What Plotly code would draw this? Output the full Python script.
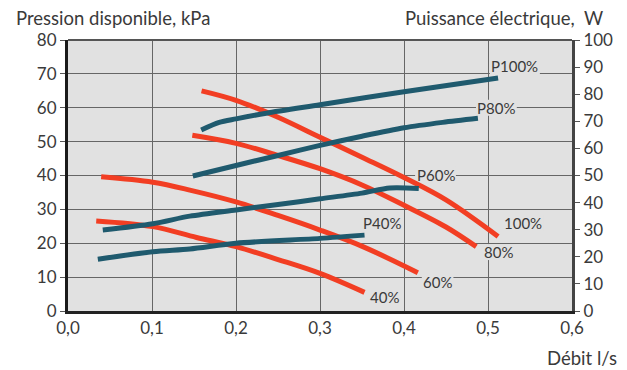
import plotly.graph_objects as go

# Pressure curves (kPa, left axis)
x100 = [0.159, 0.2, 0.25, 0.3, 0.35, 0.4, 0.45, 0.512]
p100 = [65.0, 62.2, 57.2, 51.3, 45.4, 39.4, 32.8, 22.0]
x80 = [0.148, 0.2, 0.25, 0.3, 0.35, 0.4, 0.45, 0.486]
p80 = [51.9, 49.5, 45.9, 42.0, 37.2, 31.2, 24.8, 19.0]
x60 = [0.0395, 0.101, 0.145, 0.2, 0.25, 0.3, 0.351, 0.4165]
p60 = [39.6, 38.0, 35.7, 32.2, 28.2, 23.9, 19.0, 11.3]
x40 = [0.0336, 0.101, 0.153, 0.2, 0.25, 0.3, 0.353]
p40 = [26.6, 24.9, 21.7, 19.0, 15.2, 11.1, 5.5]

# Power curves (W, right axis)
xw100 = [0.1586, 0.18, 0.2, 0.236, 0.3, 0.4, 0.512]
w100 = [66.8, 69.6, 70.9, 73.0, 76.1, 80.9, 86.0]
xw80 = [0.1486, 0.2, 0.25, 0.3, 0.35, 0.4, 0.446, 0.488]
w80 = [49.8, 53.7, 57.4, 61.1, 64.5, 67.6, 69.6, 71.1]
xw60 = [0.0414, 0.101, 0.145, 0.2, 0.25, 0.3, 0.35, 0.383, 0.4176]
w60 = [29.9, 32.2, 35.0, 37.3, 39.3, 41.4, 43.5, 45.4, 45.2]
xw40 = [0.0355, 0.101, 0.145, 0.2, 0.3, 0.353]
w40 = [19.1, 21.9, 22.9, 25.0, 26.8, 28.0]

# Curve labels (text, x, kPa)
label_text = ["P100%", "P80%", "P60%", "P40%", "100%", "80%", "60%", "40%"]
label_x = [0.532, 0.51, 0.4375, 0.374, 0.542, 0.512, 0.44, 0.377]
label_y = [72.3, 60.0, 40.2, 26.1, 26.0, 17.4, 8.6, 4.1]

RED = "#f23e23"
BLUE = "#1f5a6e"
BG = "#e1e1e1"
TXT = "#3a3a3a"
FONT = "Lato"
FS = 17
TFS = 18.5

fig = go.Figure()
for xs, ys in [(x100, p100), (x80, p80), (x60, p60), (x40, p40)]:
    fig.add_trace(go.Scatter(x=xs, y=ys, mode="lines", line=dict(color=RED, width=5, shape="spline", smoothing=1.0),
                             hoverinfo="skip", showlegend=False))
for xs, ys in [(xw100, w100), (xw80, w80), (xw60, w60), (xw40, w40)]:
    fig.add_trace(go.Scatter(x=xs, y=ys, mode="lines", yaxis="y2",
                             line=dict(color=BLUE, width=5, shape="spline", smoothing=0.8),
                             hoverinfo="skip", showlegend=False))

# Label backgrounds that break the gridlines but stay below the curves
use_between = True
for t, x, y in zip(label_text, label_x, label_y):
    half_w = len(t) * 4.6 + 2
    try:
        fig.add_shape(type="rect", xref="x", yref="y", xsizemode="pixel", ysizemode="pixel",
                      xanchor=x, yanchor=y, x0=-half_w, x1=half_w, y0=-8, y1=8,
                      fillcolor=BG, line=dict(width=0), layer="between")
    except Exception:
        use_between = False
        break
if not use_between:
    fig.layout.shapes = ()

for t, x, y in zip(label_text, label_x, label_y):
    fig.add_annotation(x=x, y=y, xref="x", yref="y", text=t, showarrow=False,
                       font=dict(family=FONT, size=15, color=TXT),
                       bgcolor=("rgba(0,0,0,0)" if use_between else BG), borderpad=0)

fig.add_shape(type="line", xref="paper", yref="paper", x0=0, x1=1, y0=1, y1=1, line=dict(color="#555555", width=2))

fig.add_annotation(x=0, y=1, xref="paper", yref="paper", xshift=-54, yshift=22, xanchor="left", yanchor="middle",
                   text="Pression disponible, kPa", showarrow=False, font=dict(family=FONT, size=TFS, color=TXT))
fig.add_annotation(x=1, y=1, xref="paper", yref="paper", xshift=33, yshift=22, xanchor="right", yanchor="middle",
                   text="Puissance électrique,  W", showarrow=False, font=dict(family=FONT, size=TFS, color=TXT))
fig.add_annotation(x=1, y=0, xref="paper", yref="paper", xshift=47, yshift=-47, xanchor="right", yanchor="middle",
                   text="Débit l/s", showarrow=False, font=dict(family=FONT, size=TFS, color=TXT))

fig.update_layout(
    width=619, height=362,
    margin=dict(l=60, r=55, t=32, b=59, autoexpand=False),
    paper_bgcolor="white", plot_bgcolor=BG,
    separators=", ",
    font=dict(family=FONT, size=FS, color=TXT),
    xaxis=dict(range=[0, 0.6], dtick=0.1, tickformat=".1f", showgrid=True, gridcolor="#666666", gridwidth=1.2,
               showline=True, linecolor="#222222", linewidth=3, ticks="", zeroline=False, automargin=False,
               tickfont=dict(family=FONT, size=FS, color=TXT)),
    yaxis=dict(range=[0, 80], dtick=10, showgrid=True, gridcolor="#666666", gridwidth=1.2,
               showline=True, linecolor="#1a1a1a", linewidth=3, ticks="outside", ticklen=5, tickcolor="#555555",
               zeroline=False, automargin=False, tickfont=dict(family=FONT, size=FS, color=TXT)),
    yaxis2=dict(range=[0, 100], dtick=10, overlaying="y", side="right", showgrid=False,
                showline=True, linecolor="#444444", linewidth=3, ticks="outside", ticklen=5, tickcolor="#555555",
                zeroline=False, automargin=False, tickfont=dict(family=FONT, size=FS, color=TXT)),
)

fig.write_html("out.html")
